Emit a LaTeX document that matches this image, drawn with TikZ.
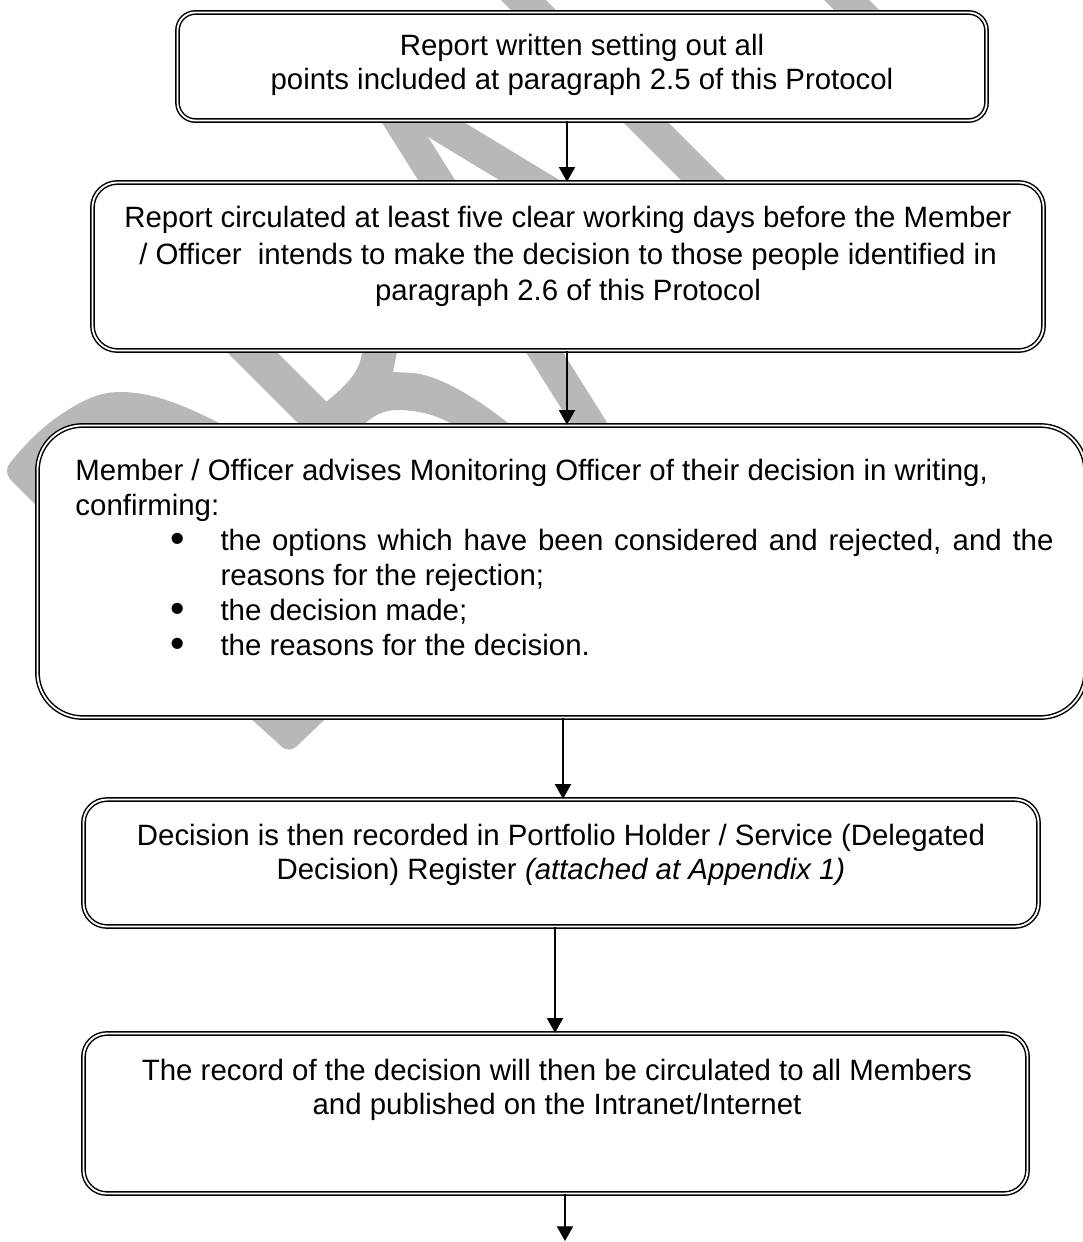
\documentclass[tikz,border=0pt]{standalone}
\usepackage{fontspec}
\setmainfont{Liberation Sans}
\usetikzlibrary{arrows.meta}
\definecolor{wm}{RGB}{184,184,184}
\newcommand\fsz{\fontsize{12pt}{14.3pt}\selectfont}
\newcommand\fszA{\fontsize{12pt}{14.1pt}\selectfont}
\newcommand\fszB{\fontsize{12pt}{14.9pt}\selectfont}
\newcommand\fszD{\fontsize{12pt}{13.9pt}\selectfont}
\newcommand\bul{\hspace*{38.8pt}\makebox[20.4pt][l]{\raisebox{-0.07em}{\scalebox{1.4}{\textbullet}}}}
\begin{document}
\begin{tikzpicture}[x=0.40816pt,y=-0.40816pt,
  box/.style={rectangle, draw=black, line width=0.6pt, double=white,
    double distance=0.75pt, fill=white, inner sep=0pt},
  txt/.style={inner sep=0pt, align=center},
  arr/.style={line width=0.55pt, -{Triangle[length=6pt,width=6.6pt]}},
  wmark/.style={fill=wm, draw=none}]
\useasboundingbox (0,0) rectangle (1083,1242);
\fill[white] (0,0) rectangle (1083,1242);

% watermark (background strokes)
\fill[wmark] (496,-5) -- (541,-5) -- (806,260) -- (761,260) -- cycle;
\fill[wmark] (819,-5) -- (864,-5) -- (899,30) -- (854,30) -- cycle;
\fill[wmark] (349,70) -- (386,70) -- (618,440) -- (581,440) -- cycle;
\fill[wmark] (378,70) -- (757,300) -- (697,300) -- (420,132) -- (385,70) -- cycle;
\fill[wmark] (175,300) -- (225,300) -- (395,470) -- (345,470) -- cycle;
\fill[wmark] (368,330) -- (362,352) .. controls (360,375) and (340,390) .. (325,403)
  -- (330,440) -- (362,427) .. controls (372,415) and (385,410) .. (397,410)
  .. controls (420,410) and (440,416) .. (457,427) -- (470,440) -- (530,440)
  -- (513,427) .. controls (490,408) and (445,376) .. (413,373) -- (393,372)
  -- (397,352) -- (400,330) -- cycle;
\fill[wmark] (70,539) -- (10,479) .. controls (6,474) and (6,467) .. (10,463)
  .. controls (25,444) and (45,424) .. (65,412)
  .. controls (83,400) and (100,392) .. (120,392)
  .. controls (150,392) and (180,403) .. (219,423)
  -- (240,440) -- (120,440) -- (70,480) -- cycle;
\fill[wmark] (230,700) -- (280,745) .. controls (285,751) and (292,751) .. (297,746)
  -- (345,700) -- cycle;

% boxes
\node[box, rounded corners=7.3pt, minimum width=330.2pt, minimum height=44.1pt] (b1) at (582,66.5) {};
\node[box, rounded corners=10.2pt, minimum width=388.2pt, minimum height=68.6pt] (b2) at (568,266.5) {};
\node[box, rounded corners=18.4pt, minimum width=427.8pt, minimum height=119.2pt] (b3) at (561.5,571.5) {};
\node[box, rounded corners=9.5pt, minimum width=389.8pt, minimum height=51.8pt] (b4) at (561,863) {};
\node[box, rounded corners=9.5pt, minimum width=385.3pt, minimum height=65.3pt] (b5) at (555.5,1113.5) {};

% texts
\node[txt, font=\fszA] (t1) at (582,64.8) {Report written setting out all\\points included at paragraph 2.5 of this Protocol};
\node[txt, font=\fszB] (t2) at (568,256.5) {Report circulated at least five clear working days before the Member\\/ Officer~ intends to make the decision to those people identified in\\paragraph 2.6 of this Protocol};
\node[inner sep=0pt, align=left, font=\fsz, anchor=north west] (t3) at (75,458.5) {Member / Officer advises Monitoring Officer of their decision in writing,\\
confirming:\\
\bul\makebox[340pt][s]{the options which have been considered and rejected, and the}\\
\hspace*{59.2pt}reasons for the rejection;\\
\bul the decision made;\\
\bul the reasons for the decision.};
\node[txt, font=\fszD] (t4) at (561,855) {Decision is then recorded in Portfolio Holder / Service (Delegated\\Decision) Register \textit{(attached at Appendix 1)}};
\node[txt, font=\fszD] (t5) at (557,1090) {The record of the decision will then be circulated to all Members\\and published on the Intranet/Internet};

% connectors
\coordinate (ax1) at (567,0);
\coordinate (ax2) at (567,0);
\coordinate (ax3) at (563,0);
\coordinate (ax4) at (555,0);
\coordinate (end5) at (565,1241);
\draw[arr] (b1.south -| ax1) -- (b2.north -| ax1);
\draw[arr] (b2.south -| ax2) -- (b3.north -| ax2);
\draw[arr] (b3.south -| ax3) -- (b4.north -| ax3);
\draw[arr] (b4.south -| ax4) -- (b5.north -| ax4);
\draw[arr] (b5.south -| end5) -- (end5);
\end{tikzpicture}
\end{document}
